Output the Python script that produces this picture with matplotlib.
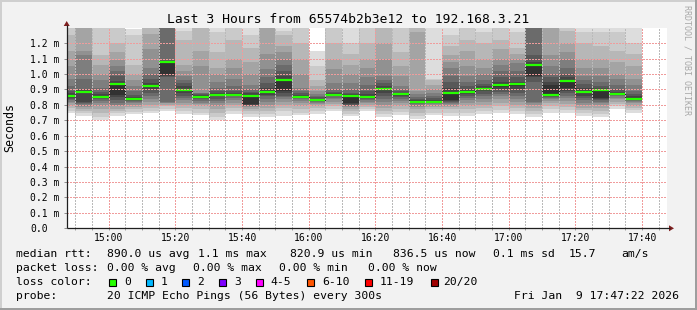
import matplotlib
matplotlib.use("Agg")
import matplotlib.pyplot as plt
from matplotlib.patches import Rectangle, Polygon
import numpy as np

# ---------------- data ----------------
# 5-minute bins (label = end of bin), values in milliseconds
bin_end = ["14:50", "14:55", "15:00", "15:05", "15:10", "15:15", "15:20", "15:25",
           "15:30", "15:35", "15:40", "15:45", "15:50", "15:55", "16:00", "16:05",
           "16:10", "16:15", "16:20", "16:25", "16:30", "16:35", "16:40", "16:45",
           "16:50", "16:55", "17:00", "17:05", "17:10", "17:15", "17:20", "17:25",
           "17:30", "17:35", "17:40"]

median_ms = [0.857, 0.883, 0.851, 0.935, 0.840, 0.922, 1.080, 0.896, 0.851, 0.864,
             0.864, 0.857, 0.883, 0.961, 0.851, 0.831, 0.864, 0.857, 0.851, 0.903,
             0.870, 0.818, 0.818, 0.877, 0.885, 0.903, 0.929, 0.935, 1.061, 0.864,
             0.955, 0.883, 0.896, 0.870, 0.838]

# 20 sorted ping RTTs per bin (ms)
pings_ms = [
    [0.745, 0.76, 0.78, 0.795, 0.81, 0.82, 0.83, 0.84, 0.845, 0.855, 0.862, 0.875, 0.89, 0.92, 0.97, 1.05, 1.15, 1.25, 1.35, 1.5],
    [0.728, 0.745, 0.76, 0.775, 0.785, 0.795, 0.805, 0.812, 0.82, 0.875, 0.89, 0.895, 0.90, 0.97, 1.12, 1.15, 1.35, 1.4, 1.5, 1.6],
    [0.70, 0.72, 0.75, 0.775, 0.795, 0.81, 0.825, 0.835, 0.845, 0.852, 0.858, 0.87, 0.885, 0.91, 0.96, 1.0, 1.06, 1.12, 1.35, 1.45],
    [0.728, 0.745, 0.76, 0.775, 0.79, 0.80, 0.815, 0.83, 0.85, 0.865, 0.935, 0.955, 0.985, 1.02, 1.05, 1.09, 1.14, 1.2, 1.35, 1.45],
    [0.74, 0.755, 0.77, 0.785, 0.80, 0.81, 0.82, 0.828, 0.835, 0.838, 0.842, 0.85, 0.865, 0.89, 0.92, 0.96, 1.0, 1.06, 1.25, 1.29],
    [0.745, 0.76, 0.78, 0.80, 0.82, 0.84, 0.86, 0.88, 0.90, 0.915, 0.925, 0.94, 0.97, 1.0, 1.04, 1.16, 1.26, 1.35, 1.45, 1.6],
    [0.76, 0.775, 0.79, 0.80, 0.81, 0.815, 0.82, 0.98, 0.99, 1.0, 1.08, 1.085, 1.09, 1.35, 1.4, 1.45, 1.5, 1.6, 1.7, 1.8],
    [0.74, 0.76, 0.78, 0.80, 0.815, 0.83, 0.845, 0.86, 0.875, 0.89, 0.90, 0.92, 0.94, 0.96, 0.985, 1.02, 1.06, 1.22, 1.28, 1.4],
    [0.735, 0.75, 0.77, 0.79, 0.805, 0.815, 0.825, 0.835, 0.845, 0.85, 0.858, 0.865, 0.87, 0.875, 0.88, 1.05, 1.15, 1.35, 1.4, 1.5],
    [0.70, 0.72, 0.745, 0.77, 0.79, 0.81, 0.825, 0.84, 0.855, 0.862, 0.87, 0.88, 0.89, 0.91, 0.95, 1.0, 1.04, 1.14, 1.27, 1.4],
    [0.74, 0.76, 0.78, 0.80, 0.815, 0.83, 0.845, 0.855, 0.862, 0.865, 0.868, 0.875, 0.89, 0.92, 0.97, 1.04, 1.1, 1.22, 1.35, 1.45],
    [0.72, 0.74, 0.76, 0.775, 0.785, 0.79, 0.795, 0.80, 0.802, 0.805, 0.86, 0.875, 0.885, 0.90, 0.93, 1.0, 1.08, 1.17, 1.25, 1.35],
    [0.72, 0.74, 0.76, 0.78, 0.80, 0.82, 0.84, 0.855, 0.865, 0.875, 0.89, 0.91, 0.94, 0.98, 1.03, 1.13, 1.35, 1.4, 1.5, 1.6],
    [0.73, 0.76, 0.78, 0.80, 0.82, 0.835, 0.85, 0.86, 0.875, 0.89, 0.965, 0.99, 1.02, 1.06, 1.1, 1.14, 1.18, 1.25, 1.28, 1.4],
    [0.735, 0.75, 0.77, 0.79, 0.81, 0.825, 0.835, 0.842, 0.848, 0.852, 0.856, 0.865, 0.875, 0.89, 0.91, 1.0, 1.1, 1.2, 1.35, 1.45],
    [0.74, 0.76, 0.78, 0.795, 0.805, 0.815, 0.82, 0.825, 0.828, 0.83, 0.834, 0.84, 0.85, 0.86, 0.87, 0.89, 0.92, 0.96, 1.05, 1.15],
    [0.76, 0.775, 0.79, 0.805, 0.82, 0.835, 0.845, 0.855, 0.862, 0.865, 0.868, 0.875, 0.885, 0.9, 0.94, 1.03, 1.1, 1.2, 1.35, 1.4],
    [0.725, 0.74, 0.76, 0.775, 0.785, 0.79, 0.795, 0.80, 0.805, 0.81, 0.86, 0.87, 0.88, 0.90, 0.94, 1.0, 1.06, 1.13, 1.2, 1.32],
    [0.76, 0.77, 0.785, 0.80, 0.81, 0.82, 0.83, 0.84, 0.845, 0.85, 0.855, 0.87, 0.89, 0.93, 0.98, 1.04, 1.1, 1.2, 1.3, 1.4],
    [0.72, 0.74, 0.76, 0.78, 0.80, 0.82, 0.84, 0.86, 0.88, 0.895, 0.91, 0.925, 0.94, 0.96, 0.99, 1.1, 1.2, 1.35, 1.4, 1.5],
    [0.735, 0.755, 0.775, 0.795, 0.81, 0.825, 0.84, 0.85, 0.86, 0.866, 0.872, 0.88, 0.89, 0.9, 0.92, 0.99, 1.05, 1.14, 1.3, 1.35],
    [0.71, 0.73, 0.75, 0.77, 0.785, 0.795, 0.805, 0.81, 0.815, 0.818, 0.822, 0.83, 0.84, 0.85, 0.87, 0.89, 1.27, 1.4, 1.5, 1.6],
    [0.735, 0.75, 0.77, 0.785, 0.795, 0.805, 0.81, 0.815, 0.818, 0.82, 0.822, 0.83, 0.845, 0.86, 0.88, 0.9, 0.93, 0.96, 0.97, 1.4],
    [0.73, 0.75, 0.77, 0.785, 0.795, 0.805, 0.815, 0.82, 0.825, 0.83, 0.88, 0.91, 0.95, 0.99, 1.04, 1.08, 1.12, 1.18, 1.25, 1.32],
    [0.725, 0.745, 0.77, 0.79, 0.81, 0.83, 0.845, 0.86, 0.872, 0.88, 0.888, 0.9, 0.92, 0.95, 0.99, 1.05, 1.15, 1.22, 1.35, 1.4],
    [0.74, 0.76, 0.78, 0.80, 0.82, 0.84, 0.855, 0.87, 0.89, 0.9, 0.91, 0.92, 0.935, 0.96, 1.0, 1.04, 1.1, 1.2, 1.27, 1.35],
    [0.745, 0.765, 0.79, 0.81, 0.835, 0.855, 0.87, 0.885, 0.9, 0.915, 0.93, 0.95, 0.98, 1.02, 1.06, 1.1, 1.16, 1.22, 1.35, 1.45],
    [0.74, 0.76, 0.78, 0.80, 0.82, 0.84, 0.86, 0.88, 0.9, 0.92, 0.935, 0.95, 0.98, 1.02, 1.07, 1.1, 1.13, 1.17, 1.27, 1.35],
    [0.72, 0.74, 0.76, 0.78, 0.80, 0.81, 0.82, 0.95, 0.98, 0.99, 1.06, 1.08, 1.12, 1.35, 1.4, 1.45, 1.5, 1.6, 1.7, 1.8],
    [0.75, 0.77, 0.79, 0.81, 0.825, 0.835, 0.845, 0.852, 0.858, 0.866, 0.93, 0.95, 0.98, 1.0, 1.05, 1.12, 1.35, 1.4, 1.5, 1.6],
    [0.745, 0.765, 0.785, 0.805, 0.825, 0.845, 0.86, 0.875, 0.89, 0.91, 0.96, 0.98, 1.0, 1.04, 1.1, 1.14, 1.2, 1.28, 1.35, 1.4],
    [0.725, 0.745, 0.765, 0.78, 0.80, 0.815, 0.83, 0.845, 0.86, 0.875, 0.89, 0.91, 0.935, 0.96, 0.99, 1.04, 1.1, 1.2, 1.27, 1.35],
    [0.72, 0.74, 0.76, 0.78, 0.80, 0.81, 0.82, 0.83, 0.84, 0.845, 0.9, 0.91, 0.92, 0.95, 0.99, 1.04, 1.1, 1.18, 1.27, 1.35],
    [0.775, 0.79, 0.805, 0.82, 0.835, 0.845, 0.855, 0.862, 0.868, 0.872, 0.876, 0.885, 0.9, 0.93, 0.97, 1.0, 1.08, 1.15, 1.27, 1.35],
    [0.745, 0.765, 0.78, 0.795, 0.81, 0.82, 0.828, 0.833, 0.837, 0.84, 0.845, 0.855, 0.87, 0.89, 0.93, 0.97, 1.05, 1.13, 1.2, 1.32],
]

x_tick_labels = ["15:00", "15:20", "15:40", "16:00", "16:20", "16:40", "17:00", "17:20", "17:40"]
y_tick_values = [0.0, 0.1, 0.2, 0.3, 0.4, 0.5, 0.6, 0.7, 0.8, 0.9, 1.0, 1.1, 1.2]
y_tick_labels = ["0.0", "0.1 m", "0.2 m", "0.3 m", "0.4 m", "0.5 m", "0.6 m", "0.7 m",
                 "0.8 m", "0.9 m", "1.0 m", "1.1 m", "1.2 m"]

loss_labels = ["0", "1", "2", "3", "4-5", "6-10", "11-19", "20/20"]
loss_colors = ["#26ff00", "#00b8ff", "#0059ff", "#7e00ff", "#ff00ff", "#ff5500", "#ff0000", "#a00000"]

title = "Last 3 Hours from 65574b2b3e12 to 192.168.3.21"
start_time = "14:47:22"
end_time = "17:47:22"

# ---------------- helpers ----------------
W, H, DPI = 697, 310, 100
MONO = "DejaVu Sans Mono"


def tmin(s):
    parts = [int(p) for p in s.split(":")]
    m = parts[0] * 60 + parts[1]
    if len(parts) > 2:
        m += parts[2] / 60.0
    return m - 14 * 60  # minutes since 14:00


ends = np.array([tmin(s) for s in bin_end])
starts = ends - 5
med = np.array(median_ms)
P = np.array(pings_ms)

fig = plt.figure(figsize=(W / DPI, H / DPI), dpi=DPI, facecolor="#f2f2f2")

L, R, T, B = 66.7, 666.7, 27.7, 228.3
ax = fig.add_axes([L / W, 1 - B / H, (R - L) / W, (B - T) / H])
ax.set_facecolor("white")
ax.set_xlim(tmin(start_time), tmin(end_time))
ax.set_ylim(0, 1.3)
for s in ax.spines.values():
    s.set_visible(False)

# smoke: outer pairs light, inner pairs dark
n = P.shape[1]
half = n // 2
for k in range(half):
    shade = int(190 / half * (half - (k + 1))) + 50
    col = "#%02x%02x%02x" % (shade, shade, shade)
    lo = P[:, k]
    hi = P[:, n - 1 - k]
    ax.bar(starts, hi - lo, bottom=lo, width=5, align="edge", color=col,
           linewidth=0, zorder=1)

# median step connectors & green segments
ax.vlines(ends[:-1], med[:-1], med[1:], colors="#202020", linewidth=0.8,
          linestyles=(0, (1.5, 1.5)), zorder=2, antialiased=False)
ax.hlines(med, starts, ends, colors=loss_colors[0], linewidth=1.6, zorder=3)

# grid (dotted)
grid_col = "#bababa"
mgrid_col = "#f09c9c"
DOT = (0, (1.4, 1.4))
minor_x = np.arange(50, 228, 5)
major_x = np.arange(60, 228, 20)
for xv in minor_x:
    if xv % 20 != 0:
        ax.axvline(xv, color=grid_col, lw=0.8, ls=DOT, zorder=5,
                   antialiased=False, snap=True)
for xv in major_x:
    ax.axvline(xv, color=mgrid_col, lw=0.8, ls=DOT, zorder=5,
               antialiased=False, snap=True)
for yv in y_tick_values[1:]:
    ax.axhline(yv, color=mgrid_col, lw=0.8, ls=DOT, zorder=5,
               antialiased=False, snap=True)

ax.set_xticks(major_x)
ax.set_xticklabels(x_tick_labels, fontfamily=MONO, fontsize=7)
ax.set_xticks(minor_x, minor=True)
ax.tick_params(axis="x", which="both", length=1.5, width=0.72, color="#a0a0a0",
               pad=1.6, direction="out")
ax.set_yticks(y_tick_values)
ax.set_yticklabels(y_tick_labels, fontfamily=MONO, fontsize=7)
ax.tick_params(axis="y", length=2.0, width=0.72, color="#909090", pad=24.4)
for lab in ax.get_yticklabels():
    lab.set_horizontalalignment("left")

# ---------------- overlay in pixel coordinates ----------------
ov = fig.add_axes([0, 0, 1, 1], zorder=10)
ov.set_xlim(0, W)
ov.set_ylim(H, 0)
ov.axis("off")
ov.patch.set_alpha(0)

# 3D frame
ov.add_patch(Rectangle((0, 0), W, 2, color="#cfcfcf", lw=0))
ov.add_patch(Rectangle((0, 0), 2, H, color="#cfcfcf", lw=0))
ov.add_patch(Rectangle((W - 2, 0), 2, H, color="#9e9e9e", lw=0))
ov.add_patch(Rectangle((0, H - 2), W, 2, color="#9e9e9e", lw=0))

# axes lines + arrows
axis_col = "#1f1f1f"
arrow_col = "#7f1f1f"
ov.plot([L, 670], [B, B], color=axis_col, lw=0.9, solid_capstyle="butt")
ov.plot([L, L], [B, 25], color=axis_col, lw=0.9, solid_capstyle="butt")
ov.add_patch(Polygon([[669, B - 3], [669, B + 3], [674, B]], closed=True,
                     color=arrow_col, lw=0))
ov.add_patch(Polygon([[L - 3, 26], [L + 3, 26], [L, 21]], closed=True,
                     color=arrow_col, lw=0))

# title and labels
ov.text(348.5, 19.3, title, fontfamily=MONO, fontsize=9.35, ha="center", va="center")
ov.text(10, 128, "Seconds", fontfamily=MONO, fontsize=8.4, rotation=90,
        ha="center", va="center")
ov.text(687, 60, "RRDTOOL / TOBI OETIKER", fontfamily=MONO, fontsize=6.0,
        rotation=270, ha="center", va="center", color="#a8a8a8")

FS = 8.2
legend_rows = [
    (254.3, [(16, "median rtt:"), (107.3, "890.0 us avg"), (197.5, "1.1 ms max"),
             (290, "820.9 us min"), (393.3, "836.5 us now"), (493.3, "0.1 ms sd"),
             (569, "15.7"), (621, "am/s")]),
    (268.3, [(16, "packet loss:"), (107.3, "0.00 % avg"), (193.3, "0.00 % max"),
             (279.3, "0.00 % min"), (368, "0.00 % now")]),
    (282.3, [(16, "loss color:")]),
    (296.0, [(16, "probe:"), (107.3, "20 ICMP Echo Pings (56 Bytes) every 300s"),
             (514, "Fri Jan  9 17:47:22 2026")]),
]
for yy, items in legend_rows:
    for xx, s in items:
        ov.text(xx, yy, s, fontfamily=MONO, fontsize=FS, ha="left", va="center")

box_x = [108.7, 145.7, 182.3, 219, 255.7, 307.3, 365.3, 430.7]
txt_x = [124, 160.7, 197.3, 234, 270.7, 322.3, 380, 443.3]
for bx, tx, lab, c in zip(box_x, txt_x, loss_labels, loss_colors):
    ov.add_patch(Rectangle((bx, 278.5), 7, 7, facecolor=c, edgecolor="black", lw=0.8))
    ov.text(tx, 282.3, lab, fontfamily=MONO, fontsize=FS, ha="left", va="center")

fig.savefig("out.png", dpi=DPI, facecolor=fig.get_facecolor())
